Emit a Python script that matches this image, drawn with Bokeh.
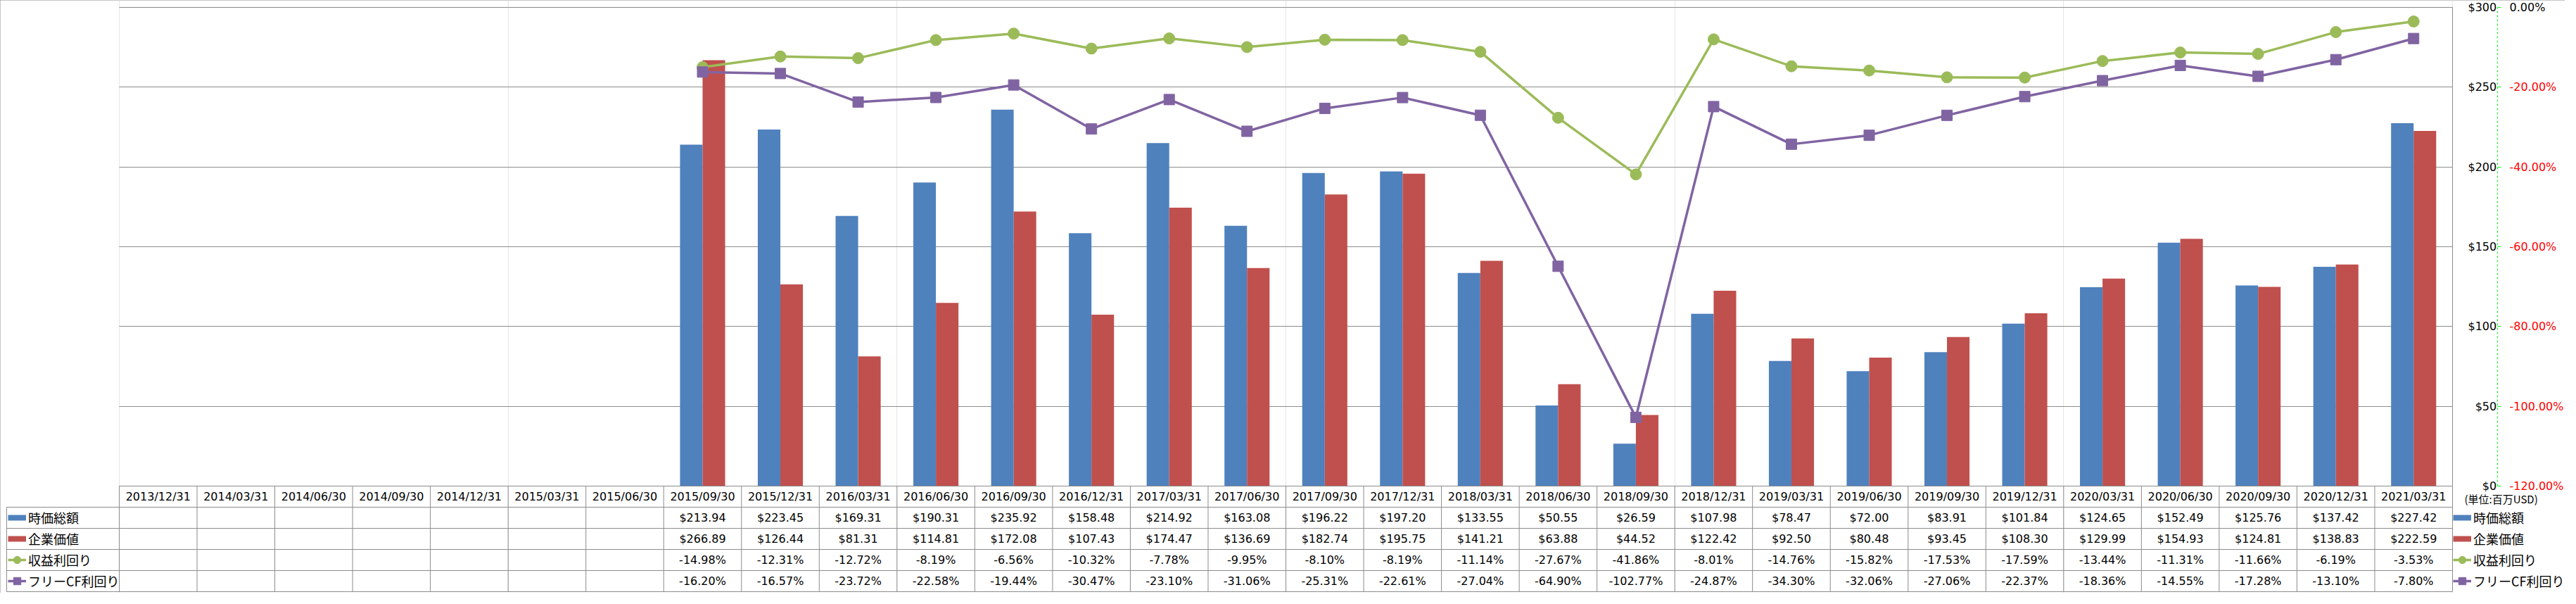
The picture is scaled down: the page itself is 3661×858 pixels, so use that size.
import math
from bokeh.plotting import figure
from bokeh.models import (Range1d, LinearAxis, FixedTicker, ColumnDataSource,
                          Legend, LegendItem, Label)
from bokeh.transform import dodge
from bokeh.core.properties import value
from bokeh.embed import file_html
from bokeh.resources import INLINE

NaN = float("nan")

# ---------------- data ----------------
dates = ["2013/12/31", "2014/03/31", "2014/06/30", "2014/09/30", "2014/12/31",
         "2015/03/31", "2015/06/30", "2015/09/30", "2015/12/31", "2016/03/31",
         "2016/06/30", "2016/09/30", "2016/12/31", "2017/03/31", "2017/06/30",
         "2017/09/30", "2017/12/31", "2018/03/31", "2018/06/30", "2018/09/30",
         "2018/12/31", "2019/03/31", "2019/06/30", "2019/09/30", "2019/12/31",
         "2020/03/31", "2020/06/30", "2020/09/30", "2020/12/31", "2021/03/31"]
market_cap = [NaN] * 7 + [213.94, 223.45, 169.31, 190.31, 235.92, 158.48, 214.92,
                          163.08, 196.22, 197.20, 133.55, 50.55, 26.59, 107.98,
                          78.47, 72.00, 83.91, 101.84, 124.65, 152.49, 125.76,
                          137.42, 227.42]
enterprise_value = [NaN] * 7 + [266.89, 126.44, 81.31, 114.81, 172.08, 107.43, 174.47,
                                136.69, 182.74, 195.75, 141.21, 63.88, 44.52, 122.42,
                                92.50, 80.48, 93.45, 108.30, 129.99, 154.93, 124.81,
                                138.83, 222.59]
earnings_yield = [NaN] * 7 + [-14.98, -12.31, -12.72, -8.19, -6.56, -10.32, -7.78,
                              -9.95, -8.10, -8.19, -11.14, -27.67, -41.86, -8.01,
                              -14.76, -15.82, -17.53, -17.59, -13.44, -11.31, -11.66,
                              -6.19, -3.53]
fcf_yield = [NaN] * 7 + [-16.20, -16.57, -23.72, -22.58, -19.44, -30.47, -23.10,
                         -31.06, -25.31, -22.61, -27.04, -64.90, -102.77, -24.87,
                         -34.30, -32.06, -27.06, -22.37, -18.36, -14.55, -17.28,
                         -13.10, -7.80]
usd_ticks = [0, 50, 100, 150, 200, 250, 300]
pct_ticks = [-120, -100, -80, -60, -40, -20, 0]
series_names = ["時価総額", "企業価値", "収益利回り", "フリーCF利回り"]
unit_note = "(単位:百万USD)"

# ---------------- style / layout ----------------
BLUE, RED, GREEN, PURPLE = "#4F81BD", "#C0504D", "#9BBB59", "#8064A2"
GRID = "#8c8c8c"
NUM_FONT = "DejaVu Sans"
JP_FONT = "Noto Sans CJK JP"

W, H = 3645, 842
CAT_L, CAT_R = 169, 3485       # category area in canvas px
PCT_AXIS_PX = 3549             # green dashed axis line
Y_TOP, Y_ZERO, ROW_H = 10, 690, 30
LEG_L = 9
N = len(dates)

cw = (CAT_R - CAT_L) / N
usd_max, pct_min = usd_ticks[-1], pct_ticks[0]
ppu = (Y_ZERO - Y_TOP) / usd_max
ppp = (Y_ZERO - Y_TOP) / (-pct_min)


def px_to_x(px):
    return (px - CAT_L) / cw


x_range = Range1d(px_to_x(0), px_to_x(W))
y_range = Range1d(-(H - Y_ZERO) / ppu, usd_max + Y_TOP / ppu)

p = figure(width=W, height=H, output_backend="svg", toolbar_location=None, tools="",
           title=None, x_axis_location=None, y_axis_location="right",
           x_range=x_range, y_range=y_range,
           min_border_left=0, min_border_right=0,
           min_border_top=0, min_border_bottom=0)
p.extra_y_ranges = {
    "pct": Range1d(pct_min - (H - Y_ZERO) / ppp, Y_TOP / ppp),
    "tbl": Range1d(-(H - Y_ZERO) / ROW_H, Y_ZERO / ROW_H),
}
p.outline_line_color = None
p.background_fill_color = "white"
p.border_fill_color = "white"
p.styles = {"outline": "1px solid #8c8c8c", "outline-offset": "-1px"}

# $ axis (right side of the plot area)
ya = p.yaxis[0]
ya.fixed_location = N
ya.ticker = FixedTicker(ticks=usd_ticks)
ya.bounds = (0, usd_max)
ya.axis_line_color = None
ya.major_tick_out = 0
ya.major_tick_in = 0
ya.minor_tick_out = 0
ya.minor_tick_in = 0
ya.major_label_standoff = 22
maxlen = max(len(str(t)) for t in usd_ticks)
ya.major_label_overrides = {t: "\u2007" * (maxlen - len(str(t))) + f"${t}" for t in usd_ticks}
ya.major_label_text_font = NUM_FONT
ya.major_label_text_font_size = "16px"
ya.major_label_text_color = "black"

p.ygrid.grid_line_color = GRID
p.ygrid.grid_line_width = 1
p.ygrid.cross_bounds = (0, N)

# % axis (green dashed line)
pa = LinearAxis(y_range_name="pct", ticker=FixedTicker(ticks=pct_ticks), bounds=(pct_min, 0),
                fixed_location=px_to_x(PCT_AXIS_PX))
pa.axis_line_color = "#00FF00"
pa.axis_line_dash = "3 3"
pa.major_tick_line_color = "#00FF00"
pa.major_tick_out = 5
pa.major_tick_in = 0
pa.minor_tick_out = 0
pa.minor_tick_in = 0
pa.major_label_standoff = 12
pa.major_label_overrides = {t: (f"{t:.2f}%" if t != 0 else "") for t in pct_ticks}
pa.major_label_text_font = NUM_FONT
pa.major_label_text_font_size = "16px"
pa.major_label_text_color = "#FF0000"
p.add_layout(pa, "right")

p.add_layout(Label(x=PCT_AXIS_PX + 5 + 12, x_units="screen", y=0, y_range_name="pct",
                   text=f"{0:.2f}%", text_baseline="middle", text_align="left",
                   text_font=NUM_FONT, text_font_size="16px", text_color="black"))
p.add_layout(Label(x=3502, x_units="screen", y=-0.6, y_range_name="tbl",
                   text=unit_note, text_baseline="middle", text_align="left",
                   text_font=JP_FONT, text_font_size="15px", text_color="black"))

# ---------------- chart marks ----------------
src = ColumnDataSource(dict(xc=[i + 0.5 for i in range(N)], mcap=market_cap,
                            ev=enterprise_value, ey=earnings_yield, fy=fcf_yield))
BW = 0.29
p.vbar(x=dodge("xc", -BW / 2), top="mcap", bottom=0, width=BW, source=src,
       fill_color=BLUE, line_color=None)
p.vbar(x=dodge("xc", BW / 2), top="ev", bottom=0, width=BW, source=src,
       fill_color=RED, line_color=None)
g_line = p.line("xc", "ey", source=src, y_range_name="pct", line_color=GREEN, line_width=3.5)
g_mark = p.scatter("xc", "ey", source=src, y_range_name="pct", marker="circle", size=16,
                   fill_color=GREEN, line_color=GREEN)
v_line = p.line("xc", "fy", source=src, y_range_name="pct", line_color=PURPLE, line_width=3.5)
v_mark = p.scatter("xc", "fy", source=src, y_range_name="pct", marker="square", size=15,
                   fill_color=PURPLE, line_color=PURPLE)

# right edge of plot area
p.segment(x0=N, y0=0, x1=N, y1=usd_max, line_color=GRID, line_width=1)

# ---------------- data table ----------------
leg_x = px_to_x(LEG_L)
hx, hy = [], []
hx.append([0, N]); hy.append([0, 0])
for r in range(1, 6):
    hx.append([leg_x, N]); hy.append([-r, -r])
for i in range(N + 1):
    hx.append([i, i]); hy.append([0, -5])
hx.append([leg_x, leg_x]); hy.append([-1, -5])
p.multi_line(xs=hx, ys=hy, y_range_name="tbl", line_color=GRID, line_width=1)

p.text(x=[i + 0.5 for i in range(N)], y=-0.5, text=dates, y_range_name="tbl",
       text_align="center", text_baseline="middle", text_font=value(NUM_FONT),
       text_font_size="16px", text_color="black")

tx, ty, tt = [], [], []
rows = [(market_cap, "usd"), (enterprise_value, "usd"), (earnings_yield, "pct"), (fcf_yield, "pct")]
for r, (vals, kind) in enumerate(rows):
    for i, v in enumerate(vals):
        if v is None or (isinstance(v, float) and math.isnan(v)):
            continue
        tx.append(i + 0.5)
        ty.append(-(r + 1.5))
        tt.append(f"${v:.2f}" if kind == "usd" else f"{v:.2f}%")
p.text(x=tx, y=ty, text=tt, y_range_name="tbl", text_align="center", text_baseline="middle",
       text_font=value(NUM_FONT), text_font_size="16px", text_color="black")

# ---------------- legends ----------------
# swatch renderers for the bar series (a thick short line looks like Excel's bar key)
sw_blue = p.line(x=[NaN], y=[NaN], line_color=BLUE, line_width=8)
sw_red = p.line(x=[NaN], y=[NaN], line_color=RED, line_width=8)


def make_legend(x_px):
    items = [LegendItem(label=series_names[0], renderers=[sw_blue]),
             LegendItem(label=series_names[1], renderers=[sw_red]),
             LegendItem(label=series_names[2], renderers=[g_line, g_mark]),
             LegendItem(label=series_names[3], renderers=[v_line, v_mark])]
    return Legend(items=items, location=(x_px, H - (Y_ZERO + 5 * ROW_H)),
                  orientation="vertical", glyph_width=26, glyph_height=ROW_H,
                  label_height=ROW_H, spacing=0, padding=0, margin=0, label_standoff=3,
                  label_text_font=JP_FONT, label_text_font_size="18px",
                  label_text_color="black", border_line_color=None,
                  background_fill_alpha=0)


p.add_layout(make_legend(11))
p.add_layout(make_legend(3486))

open("out.html", "w").write(file_html(p, INLINE))
